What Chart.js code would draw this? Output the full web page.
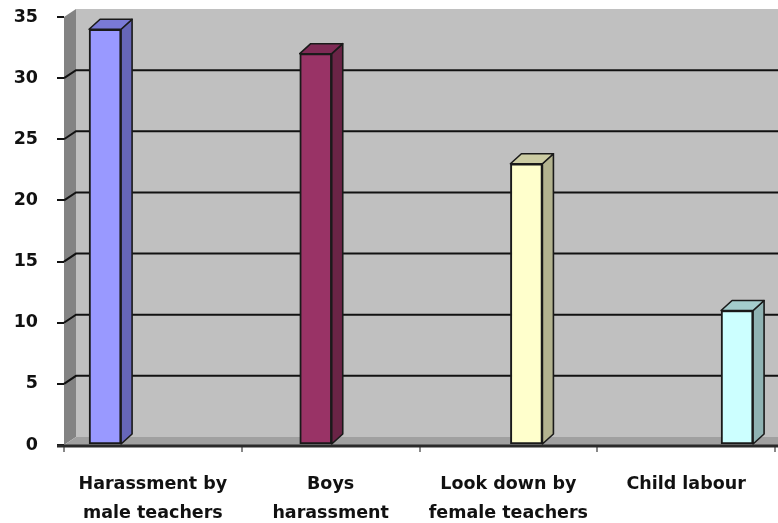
<!DOCTYPE html>
<html>
<head>
<meta charset="utf-8">
<script src="https://cdn.jsdelivr.net/npm/chart.js@4/dist/chart.umd.min.js"></script>
<style>
  html, body { margin: 0; padding: 0; background: #ffffff; }
  canvas { display: block; }
</style>
</head>
<body>
<canvas id="c" width="778" height="523"></canvas>
<script>
// ---- data ----
const categories = [
  ['Harassment by', 'male teachers'],
  ['Boys', 'harassment'],
  ['Look down by', 'female teachers'],
  ['Child labour']
];
const values = [34, 32, 23, 11];
const yMin = 0;
const yMax = 35;
const yStep = 5;

// ---- styles ----
const frontColors = ['#9999ff', '#993366', '#ffffcc', '#ccffff'];
const sideColors  = ['#6666b8', '#6a2446', '#b3b38f', '#8fb3b3'];
const topColors   = ['#7a7ad6', '#7f2a55', '#cccca3', '#a3cccc'];

const WALL_DX = 12, WALL_DY = -8;
const BAR_DX = 11, BAR_DY = -10;

const depth3d = {
  id: 'depth3d',
  beforeDatasetsDraw(chart) {
    const { ctx, chartArea: a, scales: { y } } = chart;
    const W = chart.width;
    const top = y.getPixelForValue(yMax);
    const bot = y.getPixelForValue(yMin);
    ctx.save();
    // back wall
    ctx.fillStyle = '#c0c0c0';
    ctx.fillRect(a.left + WALL_DX, top + WALL_DY, W - (a.left + WALL_DX), bot - top);
    // side wall
    ctx.fillStyle = '#838383';
    ctx.beginPath();
    ctx.moveTo(a.left, top);
    ctx.lineTo(a.left + WALL_DX, top + WALL_DY);
    ctx.lineTo(a.left + WALL_DX, bot + WALL_DY);
    ctx.lineTo(a.left, bot);
    ctx.closePath();
    ctx.fill();
    // floor
    ctx.fillStyle = '#a0a0a0';
    ctx.beginPath();
    ctx.moveTo(a.left, bot);
    ctx.lineTo(a.left + WALL_DX, bot + WALL_DY);
    ctx.lineTo(W, bot + WALL_DY);
    ctx.lineTo(W, bot);
    ctx.closePath();
    ctx.fill();
    // gridlines
    ctx.strokeStyle = '#111111';
    ctx.lineWidth = 2;
    y.ticks.forEach(t => {
      if (t.value <= yMin || t.value >= yMax) return;
      const py = y.getPixelForValue(t.value);
      ctx.beginPath();
      ctx.moveTo(a.left, py);
      ctx.lineTo(a.left + WALL_DX, py + WALL_DY);
      ctx.lineTo(W, py + WALL_DY);
      ctx.stroke();
    });
    ctx.restore();
  },
  afterDatasetsDraw(chart) {
    const { ctx } = chart;
    const meta = chart.getDatasetMeta(0);
    ctx.save();
    ctx.strokeStyle = '#1a1a1a';
    ctx.lineWidth = 1.6;
    ctx.lineJoin = 'round';
    meta.data.forEach((el, i) => {
      const p = el.getProps(['x', 'y', 'width', 'base'], true);
      const l = p.x - p.width / 2, r = p.x + p.width / 2;
      const t = p.y, b = p.base;
      // side face
      ctx.fillStyle = sideColors[i];
      ctx.beginPath();
      ctx.moveTo(r, t);
      ctx.lineTo(r + BAR_DX, t + BAR_DY);
      ctx.lineTo(r + BAR_DX, b + BAR_DY);
      ctx.lineTo(r, b);
      ctx.closePath();
      ctx.fill();
      ctx.stroke();
      // top face
      ctx.fillStyle = topColors[i];
      ctx.beginPath();
      ctx.moveTo(l, t);
      ctx.lineTo(l + BAR_DX, t + BAR_DY);
      ctx.lineTo(r + BAR_DX, t + BAR_DY);
      ctx.lineTo(r, t);
      ctx.closePath();
      ctx.fill();
      ctx.stroke();
    });
    ctx.restore();
  },
  afterDraw(chart) {
    const { ctx, chartArea: a } = chart;
    const y0 = chart.scales.y.getPixelForValue(yMin);
    ctx.save();
    ctx.strokeStyle = '#2a2a2a';
    ctx.lineWidth = 3;
    ctx.beginPath();
    ctx.moveTo(a.left - 7, y0 + 1);
    ctx.lineTo(chart.width, y0 + 1);
    ctx.stroke();
    ctx.restore();
  }
};

const labelFont = { family: '"DejaVu Sans", sans-serif', size: 17.5, weight: 'bold', lineHeight: 1.66 };

new Chart(document.getElementById('c'), {
  type: 'bar',
  data: {
    labels: categories,
    datasets: [{
      data: values.map((v, i) => ({ x: i, y: v })),
      xAxisID: 'xb',
      yAxisID: 'y',
      backgroundColor: frontColors,
      borderColor: '#1a1a1a',
      borderWidth: 2,
      borderSkipped: false,
      barThickness: 32
    }]
  },
  options: {
    responsive: false,
    animation: false,
    devicePixelRatio: 1,
    layout: { padding: { top: 17, right: 3, bottom: 0, left: 0 } },
    plugins: { legend: { display: false }, tooltip: { enabled: false } },
    scales: {
      x: {
        type: 'category',
        position: 'bottom',
        offset: true,
        grid: { offset: true, drawOnChartArea: false, drawTicks: true, tickLength: 7, color: '#888888', lineWidth: 2 },
        border: { display: false },
        ticks: { color: '#111111', font: labelFont, padding: 17.5, maxRotation: 0, autoSkip: false },
        afterFit(s) { s.height = 78; s.paddingLeft = 0; s.paddingRight = 0; }
      },
      xb: {
        type: 'linear',
        display: false,
        offset: false,
        min: -0.195,
        max: 3.18,
        grid: { offset: false }
      },
      y: {
        type: 'linear',
        position: 'left',
        min: yMin,
        max: yMax,
        ticks: { stepSize: yStep, color: '#111111', font: { family: '"DejaVu Sans", sans-serif', size: 17.5, weight: 'bold' }, padding: 19 },
        grid: { drawOnChartArea: false, drawTicks: true, tickLength: 7, color: '#111111', lineWidth: 2 },
        border: { display: false },
        afterFit(s) { s.width = 64; s.paddingTop = 0; s.paddingBottom = 0; }
      }
    }
  },
  plugins: [depth3d]
});
</script>
</body>
</html>
